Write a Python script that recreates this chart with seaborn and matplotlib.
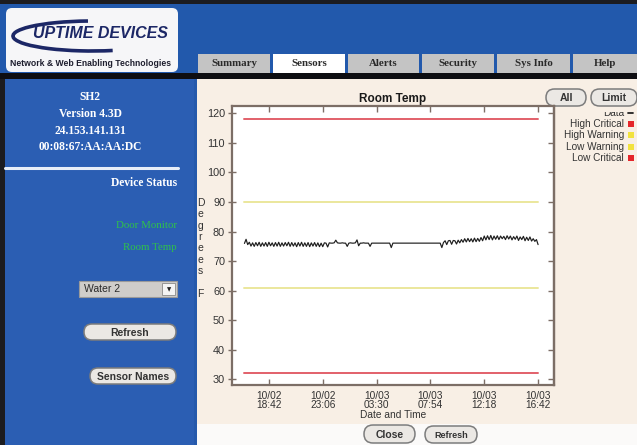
import matplotlib
matplotlib.use('Agg')
import matplotlib.pyplot as plt
import matplotlib.dates as mdates
from matplotlib.patches import Rectangle, FancyBboxPatch, Arc
import pandas as pd
import seaborn as sns

# ---- chart data ----
start_time = "2009-10-02 16:42"
sample_minutes = 8
room_temp = [
    76.0, 77.4, 75.6,
    76.4, 75.1, 76.2, 75.0, 76.3, 75.2, 76.4, 75.0, 76.2, 75.1, 76.3, 75.0,
    76.4, 75.2, 76.2, 75.0, 76.3, 75.1, 76.4, 75.0, 76.2, 75.1, 76.3, 75.2,
    76.4, 75.0, 76.3, 75.1, 76.2, 74.9, 76.3, 75.1, 76.4, 75.0, 76.2, 75.0,
    76.3, 74.9, 76.2, 75.1, 76.3, 75.0, 76.2, 74.9,
    76.1, 74.9, 76.2, 76.1, 74.8, 76.2,
    76.1, 76.1, 76.2,
    77.1,
    76.2, 76.1, 76.1, 76.2, 76.1, 76.1,
    75.0,
    76.1, 76.2, 76.1, 76.1, 76.2,
    77.2, 75.2,
    76.1, 76.1, 76.2, 76.1, 76.1, 76.1,
    75.0,
    76.1, 76.1, 76.1, 76.1, 76.1, 76.1, 76.1, 76.1, 76.1, 76.1, 76.1, 76.1,
    74.6,
    76.1, 76.1, 76.1, 76.1, 76.1, 76.1, 76.1, 76.1, 76.1, 76.1,
    76.1, 76.1, 76.1, 76.1, 76.1, 76.1, 76.1, 76.1, 76.1, 76.1,
    76.1, 76.1, 76.1, 76.1, 76.1, 76.1, 76.1, 76.1, 76.1, 76.1,
    74.6,
    76.3, 76.9, 75.6, 76.9, 77.0, 75.7, 77.0, 76.9, 75.8, 77.1, 76.2, 77.3,
    76.4, 77.6, 76.5, 77.7, 76.6, 77.6, 76.5, 77.8, 76.6, 77.7, 76.7, 78.0, 76.9,
    78.5, 77.2, 78.6, 77.3, 78.7, 77.2, 78.5, 77.4, 78.6, 77.3, 78.5, 77.6,
    78.4, 77.3, 78.6, 77.5, 78.5, 77.2, 78.3, 77.4, 78.5, 77.0, 78.2, 77.3,
    78.4, 76.9, 78.1, 77.0, 78.2, 76.8, 77.6, 76.7, 77.3,
    75.6,
]
limit_names = ["High Critical", "High Warning", "Low Warning", "Low Critical"]
limit_values = [118, 90, 61, 32]
limit_line_colors = ["#e2606a", "#ebe79c", "#ebe79c", "#e2606a"]
legend_colors = ["#e4262b", "#f2e23e", "#f2e23e", "#e4262b"]
tick_times = ["2009-10-02 18:42", "2009-10-02 23:06", "2009-10-03 03:30",
              "2009-10-03 07:54", "2009-10-03 12:18", "2009-10-03 16:42"]
y_ticks = [30, 40, 50, 60, 70, 80, 90, 100, 110, 120]

# ---- page texts ----
tabs = ["Summary", "Sensors", "Alerts", "Security", "Sys Info", "Help"]
tab_left = [198, 273, 348, 422, 497, 573]
tab_right = [270, 345, 419, 494, 570, 637]
device_info = ["SH2", "Version 4.3D", "24.153.141.131", "00:08:67:AA:AA:DC"]
sensors = ["Door Monitor", "Room Temp"]

sns.set_style("white")
plt.rcParams['font.family'] = ['Liberation Sans', 'DejaVu Sans']

cream = "#f8efe5"
fig = plt.figure(figsize=(6.37, 4.45), dpi=100)
fig.patch.set_facecolor("#1c1c20")

# background axes in pixel coordinates
bg = fig.add_axes([0, 0, 1, 1])
bg.set_xlim(0, 637)
bg.set_ylim(445, 0)
bg.axis('off')

def rect(x0, y0, x1, y1, color, **kw):
    bg.add_patch(Rectangle((x0, y0), x1 - x0, y1 - y0, facecolor=color,
                           edgecolor=kw.pop('ec', 'none'), **kw))

def button(x0, y0, x1, y1, label, fs=7.5, bold=True):
    bg.add_patch(FancyBboxPatch((x0, y0), x1 - x0, y1 - y0,
                                boxstyle="round,pad=0,rounding_size=%.1f" % ((y1 - y0) / 2),
                                facecolor="#ebe8e4", edgecolor="#7c7c7c", lw=1.1, zorder=5))
    bg.text((x0 + x1) / 2, (y0 + y1) / 2 + 0.5, label, ha='center', va='center',
            fontsize=fs, color="#333333", fontweight='bold' if bold else 'normal', zorder=6)

# header
rect(0, 4, 637, 73, "#2259ac")
rect(0, 73, 637, 79, "#0e0e12")
bg.add_patch(FancyBboxPatch((6, 8), 172, 64, boxstyle="round,pad=0,rounding_size=6",
                            facecolor="#f6f6f8", edgecolor="none"))
bg.add_patch(Arc((92, 36), 158, 30, theta1=35, theta2=255, color="#1c2766", lw=2.6))
bg.text(100, 33, "UPTIME DEVICES", ha='center', va='center', fontsize=11.5,
        fontweight='bold', style='italic', color="#1c2766")
bg.text(91, 64, "Network & Web Enabling Technologies", ha='center', va='center',
        fontsize=6.2, fontweight='bold', color="#1e1e2e")

# tabs
for name, x0, x1 in zip(tabs, tab_left, tab_right):
    rect(x0, 54, x1, 73, "#ffffff" if name == "Sensors" else "#c4c4c4")
    bg.text((x0 + x1) / 2, 63.5, name, ha='center', va='center', fontsize=7.8,
            fontweight='bold', color="#2a2a2a", family='Liberation Serif')

# sidebar
rect(0, 79, 5, 445, "#1c1c20")
rect(5, 79, 194, 445, "#2b5eb3")
rect(194, 79, 197, 445, "#2559ab")
for i, line in enumerate(device_info):
    bg.text(90, 97 + i * 16.8, line, ha='center', va='center', fontsize=8.3,
            fontweight='bold', color="white", family='Liberation Serif')
bg.plot([5, 178], [167.5, 167.5], color="#e8eef8", lw=2.2)
bg.text(177, 183, "Device Status", ha='right', va='center', fontsize=8.3,
        fontweight='bold', color="white", family='Liberation Serif')
for i, s in enumerate(sensors):
    bg.text(177, 226 + i * 21, s, ha='right', va='center', fontsize=7.8,
            color="#2fc24a", family='Liberation Serif')

# dropdown + buttons in the sidebar
rect(79, 281, 177, 297, "#cfcdca", ec="#9a9a9a", lw=0.8)
rect(162, 283, 175, 295, "#f4f4f4", ec="#8a8a8a", lw=0.6)
bg.text(169, 289.5, "\u25bc", ha='center', va='center', fontsize=4, color="#222222",
        family='DejaVu Sans')
bg.text(84, 289.5, "Water 2", ha='left', va='center', fontsize=7.5, color="#2a2a2a")
button(84, 324, 176, 340, "Refresh")
button(90, 368, 176, 384, "Sensor Names")

# content panel
rect(197, 79, 637, 424, cream)
rect(197, 424, 637, 445, "#fbfaf9")
button(364, 425, 415, 443, "Close", fs=7.5)
button(425, 426, 477, 443, "Refresh", fs=6.5)

# legend to the right of the plot (its first row is cut off at the top)
bg.text(624, 112.5, "Data", ha='right', va='center', fontsize=7.2, color="#333333", zorder=3)
rect(556, 100, 637, 112.2, cream, zorder=4)
bg.plot([628, 633], [113, 113], color="#222222", lw=1.3)
for i, (name, col) in enumerate(zip(limit_names, legend_colors)):
    y = 124 + i * 11.4
    bg.text(624, y, name, ha='right', va='center', fontsize=7.2, color="#333333")
    rect(628, y - 3, 634, y + 3, col)
button(546, 89, 586, 106, "All")
button(591, 89, 637, 106, "Limit")

# ---- the chart itself ----
times = pd.date_range(start_time, periods=len(room_temp), freq="%dmin" % sample_minutes)
data_df = pd.DataFrame({"time": times, "temp": room_temp})
limit_df = pd.DataFrame({
    "time": [times[0], times[-1]] * len(limit_names),
    "value": [v for v in limit_values for _ in range(2)],
    "limit": [n for n in limit_names for _ in range(2)],
})

spine_color = "#7c6e66"
ax = fig.add_axes([232 / 637, 1 - 385 / 445, 322 / 637, 279 / 445])
ax.set_facecolor("white")
sns.lineplot(data=limit_df, x="time", y="value", hue="limit", units="limit",
             estimator=None, palette=dict(zip(limit_names, limit_line_colors)),
             legend=False, lw=1.4, ax=ax)
sns.lineplot(data=data_df, x="time", y="temp", color="#1e1e1e", lw=0.85, ax=ax)

ax.set_xlim(pd.Timestamp("2009-10-02 15:41"), pd.Timestamp("2009-10-03 18:00"))
ax.set_ylim(28.1, 122.5)
ax.set_xticks(pd.to_datetime(tick_times))
ax.xaxis.set_major_formatter(mdates.DateFormatter("%m/%d\n%H:%M"))
ax.set_yticks(y_ticks)

for side in ax.spines.values():
    side.set_color(spine_color)
    side.set_linewidth(1.6)
ax.tick_params(axis='x', direction='in', top=True, bottom=True, length=4, width=1,
               color=spine_color, labelsize=7.3, labelcolor="#333333", pad=4)
ax.tick_params(axis='y', direction='inout', left=True, right=False, length=6, width=1,
               color=spine_color, labelsize=7.8, labelcolor="#333333", pad=2)
for lab in ax.get_xticklabels():
    lab.set_linespacing(0.95)
right = ax.secondary_yaxis('right')
right.set_yticks(y_ticks)
right.set_yticklabels([])
right.tick_params(direction='in', length=4, width=1, color=spine_color)
right.spines['right'].set_color(spine_color)
right.spines['right'].set_linewidth(1.6)

ax.set_title("Room Temp", fontsize=8.5, fontweight='bold', color="#1a1a1a", pad=3)
ax.set_xlabel("Date and Time", fontsize=7.3, color="#333333", labelpad=0)
ax.set_ylabel("D\ne\ng\nr\ne\ne\ns\n\nF", rotation=0, fontsize=7.5, color="#333333",
              linespacing=1.17, ha='center', va='center')
ax.yaxis.set_label_coords(-0.098, 0.49)

fig.savefig("out.png", dpi=100)
